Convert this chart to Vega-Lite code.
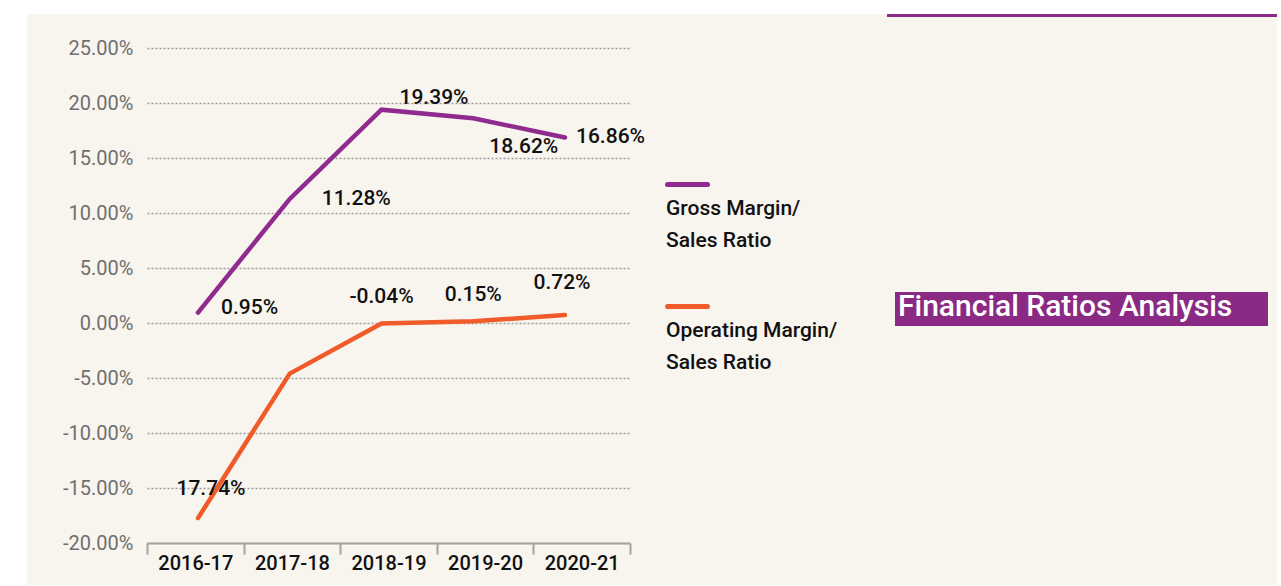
{
  "$schema": "https://vega.github.io/schema/vega-lite/v6.json",
  "width": 1250,
  "height": 571,
  "autosize": {"type": "none"},
  "padding": {"left": 27, "top": 14, "right": 4, "bottom": 1},
  "background": "#ffffff",
  "config": {
    "view": {"fill": "#f8f4ee", "stroke": null},
    "font": "Roboto"
  },
  "datasets": {
    "ratios": [
      {"year": "2016-17", "series": "Gross Margin/Sales Ratio", "value": 0.95, "label": "0.95%"},
      {"year": "2017-18", "series": "Gross Margin/Sales Ratio", "value": 11.28, "label": "11.28%"},
      {"year": "2018-19", "series": "Gross Margin/Sales Ratio", "value": 19.39, "label": "19.39%"},
      {"year": "2019-20", "series": "Gross Margin/Sales Ratio", "value": 18.62, "label": "18.62%"},
      {"year": "2020-21", "series": "Gross Margin/Sales Ratio", "value": 16.86, "label": "16.86%"},
      {"year": "2016-17", "series": "Operating Margin/Sales Ratio", "value": -17.74, "label": "17.74%"},
      {"year": "2017-18", "series": "Operating Margin/Sales Ratio", "value": -4.6, "label": null},
      {"year": "2018-19", "series": "Operating Margin/Sales Ratio", "value": -0.04, "label": "-0.04%"},
      {"year": "2019-20", "series": "Operating Margin/Sales Ratio", "value": 0.15, "label": "0.15%"},
      {"year": "2020-21", "series": "Operating Margin/Sales Ratio", "value": 0.72, "label": "0.72%"}
    ],
    "heading": [{"heading": "Financial Ratios Analysis"}]
  },
  "data": {"name": "ratios"},
  "layer": [
    {
      "mark": {"type": "tick", "opacity": 0},
      "encoding": {
        "x": {
          "field": "year", "type": "nominal",
          "scale": {"type": "band", "range": [120, 603], "paddingInner": 0, "paddingOuter": 0},
          "axis": {
            "title": null, "orient": "bottom", "offset": -42, "grid": false,
            "domainColor": "#a3a3a3", "domainWidth": 2,
            "tickColor": "#a3a3a3", "tickWidth": 2, "tickSize": 11, "tickBand": "extent",
            "labelFontSize": 20, "labelFontWeight": 500, "labelColor": "#111111", "labelPadding": -1, "labelAngle": 0
          }
        },
        "y": {
          "field": "value", "type": "quantitative",
          "scale": {"domain": [-20, 25], "range": [529, 34], "nice": false, "zero": false},
          "axis": {
            "title": null, "offset": -118,
            "values": [-20, -15, -10, -5, 0, 5, 10, 15, 20, 25],
            "domain": false, "ticks": false, "labelPadding": 12,
            "labelFontSize": 20, "labelColor": "#6f6f6f",
            "labelExpr": "(datum.value < 0 ? '-' : '') + format(abs(datum.value), '.2f') + '%'",
            "grid": true, "gridColor": "#9b9b9b", "gridDash": [2, 2], "gridWidth": 1.6
          }
        }
      }
    },
    {
      "encoding": {
        "x": {
          "field": "year", "type": "nominal",
          "scale": {"type": "point", "range": [171, 538], "padding": 0},
          "axis": null
        },
        "y": {
          "field": "value", "type": "quantitative",
          "scale": {"domain": [-20, 25], "range": [529, 34], "nice": false, "zero": false},
          "axis": null
        }
      },
      "layer": [
        {
          "mark": {"type": "line", "strokeWidth": 4.5, "strokeCap": "round"},
          "encoding": {
            "color": {
              "field": "series", "type": "nominal",
              "scale": {"domain": ["Gross Margin/Sales Ratio", "Operating Margin/Sales Ratio"], "range": ["#8f2b8f", "#f15a29"]},
              "legend": {
                "title": null, "orient": "none", "legendX": 638, "legendY": 148,
                "symbolType": "stroke", "symbolSize": 1600, "symbolStrokeWidth": 5,
                "labelOffset": -44, "labelBaseline": "top", "labelFontSize": 21, "labelFontWeight": 500,
                "labelColor": "#111111", "labelLimit": 400,
                "labelExpr": "[split(datum.label, '/')[0] + '/', split(datum.label, '/')[1]]",
                "rowPadding": 33,
                "encoding": {
                  "labels": {"dy": {"value": 13}, "lineHeight": {"value": 32}},
                  "symbols": {"strokeCap": {"value": "round"}}
                }
              }
            }
          }
        },
        {
          "transform": [{"filter": "datum.label == '0.95%'"}],
          "mark": {"type": "text", "align": "left", "baseline": "middle", "dx": 23, "dy": -5, "fontSize": 21, "fontWeight": 500, "color": "#111111"},
          "encoding": {"text": {"field": "label"}}
        },
        {
          "transform": [{"filter": "datum.label == '11.28%'"}],
          "mark": {"type": "text", "align": "left", "baseline": "middle", "dx": 32, "dy": 0, "fontSize": 21, "fontWeight": 500, "color": "#111111"},
          "encoding": {"text": {"field": "label"}}
        },
        {
          "transform": [{"filter": "datum.label == '19.39%'"}],
          "mark": {"type": "text", "align": "left", "baseline": "middle", "dx": 18, "dy": -12, "fontSize": 21, "fontWeight": 500, "color": "#111111"},
          "encoding": {"text": {"field": "label"}}
        },
        {
          "transform": [{"filter": "datum.label == '18.62%'"}],
          "mark": {"type": "text", "align": "left", "baseline": "middle", "dx": 16, "dy": 29, "fontSize": 21, "fontWeight": 500, "color": "#111111"},
          "encoding": {"text": {"field": "label"}}
        },
        {
          "transform": [{"filter": "datum.label == '16.86%'"}],
          "mark": {"type": "text", "align": "left", "baseline": "middle", "dx": 11, "dy": -1, "fontSize": 21, "fontWeight": 500, "color": "#111111"},
          "encoding": {"text": {"field": "label"}}
        },
        {
          "transform": [{"filter": "datum.label == '-0.04%' || datum.label == '0.15%'"}],
          "mark": {"type": "text", "align": "center", "baseline": "middle", "dx": 0, "dy": -26, "fontSize": 21, "fontWeight": 500, "color": "#111111"},
          "encoding": {"text": {"field": "label"}}
        },
        {
          "transform": [{"filter": "datum.label == '0.72%'"}],
          "mark": {"type": "text", "align": "center", "baseline": "middle", "dx": -3, "dy": -32, "fontSize": 21, "fontWeight": 500, "color": "#111111"},
          "encoding": {"text": {"field": "label"}}
        },
        {
          "transform": [{"filter": "datum.label == '17.74%'"}],
          "mark": {"type": "text", "align": "center", "baseline": "middle", "dx": 13, "dy": -29, "fontSize": 21, "fontWeight": 500, "color": "#111111"},
          "encoding": {"text": {"field": "label"}}
        }
      ]
    },
    {
      "data": {"name": "heading"},
      "encoding": {
        "x": {
          "field": "heading", "type": "nominal",
          "scale": {"type": "band", "range": [868, 1241], "paddingInner": 0, "paddingOuter": 0},
          "axis": null
        },
        "y": {
          "field": "heading", "type": "nominal",
          "scale": {"type": "band", "range": [278, 312], "paddingInner": 0, "paddingOuter": 0},
          "axis": null
        }
      },
      "layer": [
        {"mark": {"type": "rect", "color": "#8b2a84"}},
        {
          "mark": {"type": "text", "align": "left", "baseline": "middle", "dx": 3, "dy": -2, "fontSize": 30, "fontWeight": 500, "color": "#ffffff"},
          "encoding": {
            "x": {"field": "heading", "type": "nominal", "bandPosition": 0},
            "text": {"field": "heading"}
          }
        }
      ]
    },
    {
      "data": {"name": "heading"},
      "mark": {"type": "rect", "color": "#8f2a8a"},
      "encoding": {
        "x": {
          "field": "heading", "type": "nominal",
          "scale": {"type": "band", "range": [860, 1250], "paddingInner": 0, "paddingOuter": 0},
          "axis": null
        },
        "y": {
          "field": "heading", "type": "nominal",
          "scale": {"type": "band", "range": [0, 3], "paddingInner": 0, "paddingOuter": 0},
          "axis": null
        }
      }
    }
  ],
  "resolve": {"scale": {"x": "independent", "y": "independent"}}
}
